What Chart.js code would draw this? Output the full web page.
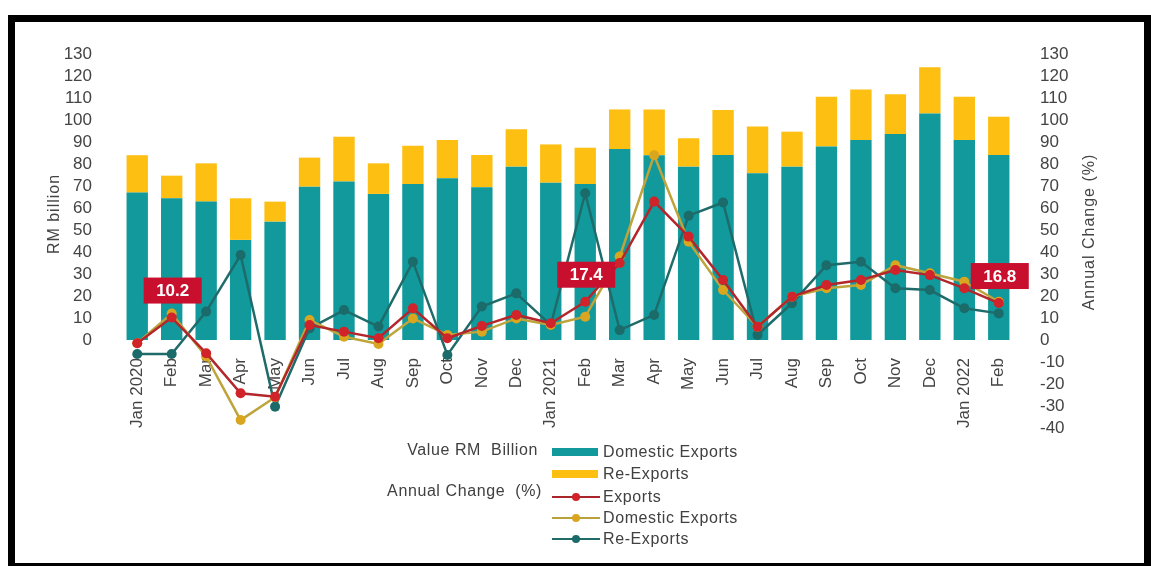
<!DOCTYPE html>
<html>
<head>
<meta charset="utf-8">
<script src="https://cdn.jsdelivr.net/npm/chart.js@4/dist/chart.umd.min.js"></script>
<style>
  html, body { margin: 0; padding: 0; background: #fff; }
  body { width: 1151px; height: 566px; position: relative; overflow: hidden; font-family: "Liberation Sans", Arial, sans-serif; }
  #chart { position: absolute; left: 0; top: 0; }
  .frame { position: absolute; left: 8px; top: 15px; width: 1143px; height: 555px; box-sizing: border-box; border: 7px solid #000; pointer-events: none; }
  .legend { position: absolute; left: 0; top: 0; width: 1151px; height: 566px; color: #404040; font-size: 16px; letter-spacing: 0.6px; pointer-events: none; }
  .legend .grp { position: absolute; text-align: right; white-space: nowrap; line-height: 20px; }
  .legend .row { position: absolute; left: 552px; height: 20px; line-height: 20px; white-space: nowrap; }
  .legend .sw { position: absolute; left: 0; top: 6px; width: 46px; height: 8px; }
  .legend .ln { position: absolute; left: 0; top: 9px; width: 48px; height: 2px; }
  .legend .mk { position: absolute; left: 20px; top: 6px; width: 8px; height: 8px; border-radius: 50%; }
  .legend .tx { position: absolute; left: 51px; top: 0; }
</style>
</head>
<body>
<canvas id="chart" width="1151" height="566"></canvas>

<div class="legend">
  <div class="grp" style="left:380px; width:158px; top:440px;">Value RM&nbsp; Billion</div>
  <div class="grp" style="left:350px; width:192px; top:481px;">Annual Change&nbsp; (%)</div>
  <div class="row" style="top:442px;"><div class="sw" style="background:#11999c"></div><div class="tx">Domestic Exports</div></div>
  <div class="row" style="top:464px;"><div class="sw" style="background:#fcbf12"></div><div class="tx">Re-Exports</div></div>
  <div class="row" style="top:487px;"><div class="ln" style="background:#a8262b"></div><div class="mk" style="background:#d0232a"></div><div class="tx">Exports</div></div>
  <div class="row" style="top:508px;"><div class="ln" style="background:#b9a23a"></div><div class="mk" style="background:#d9a520"></div><div class="tx">Domestic Exports</div></div>
  <div class="row" style="top:529px;"><div class="ln" style="background:#1f6b6a"></div><div class="mk" style="background:#1a6b6a"></div><div class="tx">Re-Exports</div></div>
</div>

<div class="frame"></div>

<script>
// Months, January 2020 to February 2022
const months = ['Jan 2020', 'Feb', 'Mar', 'Apr', 'May', 'Jun', 'Jul', 'Aug', 'Sep', 'Oct', 'Nov', 'Dec',
                'Jan 2021', 'Feb', 'Mar', 'Apr', 'May', 'Jun', 'Jul', 'Aug', 'Sep', 'Oct', 'Nov', 'Dec',
                'Jan 2022', 'Feb'];

// Value, RM billion
const domesticExportsValue = [67.0, 64.4, 62.9, 45.5, 53.8, 69.7, 72.0, 66.4, 70.9, 73.5, 69.4, 78.8,
                              71.5, 70.9, 86.8, 84.0, 78.8, 84.1, 75.8, 78.8, 87.9, 90.9, 93.6, 103.0,
                              90.9, 84.1];
const reExportsValue = [17.0, 10.3, 17.4, 18.9, 9.1, 13.2, 20.4, 13.9, 17.4, 17.4, 14.7, 17.0,
                        17.4, 16.5, 18.0, 20.8, 12.9, 20.4, 21.2, 15.9, 22.7, 23.0, 18.1, 21.0,
                        19.7, 17.4];

// Annual change, %
const exportsChange = [-1.5, 10.2, -6.0, -24.2, -25.8, 6.8, 3.8, 0.8, 14.4, 0.8, 6.4, 11.4,
                       7.6, 17.4, 35.0, 62.9, 47.0, 27.3, 6.0, 19.7, 25.0, 27.3, 31.8, 29.5,
                       23.5, 16.8];
const domesticExportsChange = [-1.5, 12.0, -7.5, -36.4, -26.0, 9.1, 1.5, -1.8, 9.8, 2.3, 3.8, 9.8,
                               6.8, 10.6, 37.9, 84.0, 44.7, 22.7, 6.0, 19.7, 23.5, 25.0, 34.0, 30.3,
                               26.5, 17.4];
const reExportsChange = [-6.4, -6.4, 12.9, 38.6, -30.3, 5.3, 13.6, 6.1, 35.6, -6.8, 15.2, 21.2,
                         6.8, 66.7, 4.5, 11.4, 56.5, 62.5, 2.3, 16.7, 34.0, 35.6, 23.5, 22.7,
                         14.4, 12.1];

// Months whose export growth is called out in a red box
const calloutMonths = [1, 13, 25];

// Axis ranges
const axisMin = -40;
const axisMax = 130;
const axisStep = 10;

const FONT = '"Liberation Sans", Arial, sans-serif';
const TICK_COLOR = '#444';

// Red value boxes above the export growth points
const calloutPlugin = {
  id: 'callouts',
  afterDatasetsDraw(chart) {
    const meta = chart.getDatasetMeta(2);
    const ctx = chart.ctx;
    ctx.save();
    ctx.font = 'bold 17px ' + FONT;
    ctx.textAlign = 'center';
    ctx.textBaseline = 'middle';
    calloutMonths.forEach(i => {
      const pt = meta.data[i];
      const w = 58, h = 26;
      const x = pt.x + 1, bottom = pt.y - 14;
      ctx.fillStyle = '#c8102e';
      ctx.fillRect(x - w / 2, bottom - h, w, h);
      ctx.fillStyle = '#fff';
      ctx.fillText(exportsChange[i].toFixed(1), x, bottom - h / 2 + 1);
    });
    ctx.restore();
  }
};

// Axis titles, both reading bottom to top
const axisTitlePlugin = {
  id: 'axisTitles',
  afterDraw(chart) {
    const ctx = chart.ctx;
    const drawTitle = (text, x, y) => {
      ctx.save();
      ctx.fillStyle = TICK_COLOR;
      ctx.font = '16px ' + FONT;
      ctx.textAlign = 'center';
      ctx.textBaseline = 'middle';
      if ('letterSpacing' in ctx) ctx.letterSpacing = '1px';
      ctx.translate(x, y);
      ctx.rotate(-Math.PI / 2);
      ctx.fillText(text, 0, 0);
      ctx.restore();
    };
    drawTitle('RM billion', 55, 214);
    drawTitle('Annual Change (%)', 1090, 232);
  }
};

const lineStyle = (label, data, line, marker, order) => ({
  type: 'line',
  label,
  data,
  yAxisID: 'yR',
  order,
  borderColor: line,
  borderWidth: 2.5,
  pointRadius: 5,
  pointBorderWidth: 0,
  pointBackgroundColor: marker,
  tension: 0,
  fill: false
});

const yTicks = {
  stepSize: axisStep,
  autoSkip: false,
  color: TICK_COLOR,
  font: { family: FONT, size: 17 }
};

new Chart(document.getElementById('chart'), {
  type: 'bar',
  data: {
    labels: months,
    datasets: [
      {
        label: 'Domestic Exports',
        data: domesticExportsValue,
        yAxisID: 'yL',
        backgroundColor: '#11999c',
        order: 3,
        categoryPercentage: 0.62,
        barPercentage: 1
      },
      {
        label: 'Re-Exports',
        data: reExportsValue,
        yAxisID: 'yL',
        backgroundColor: '#fcbf12',
        order: 4,
        categoryPercentage: 0.62,
        barPercentage: 1
      },
      lineStyle('Exports', exportsChange, '#b3262b', '#d0232a', 0),
      lineStyle('Domestic Exports', domesticExportsChange, '#bda43c', '#dba61f', 1),
      lineStyle('Re-Exports', reExportsChange, '#1f6b6a', '#1a6b6a', 2)
    ]
  },
  options: {
    responsive: false,
    animation: false,
    layout: { padding: { top: 54, bottom: 138, left: 0, right: 0 } },
    plugins: {
      legend: { display: false },
      tooltip: { enabled: false }
    },
    scales: {
      x: {
        position: { yL: 0 },
        stacked: true,
        offset: true,
        grid: { display: false },
        border: { display: false },
        ticks: {
          autoSkip: false,
          minRotation: 90,
          maxRotation: 90,
          padding: 10,
          color: TICK_COLOR,
          font: { family: FONT, size: 17 }
        }
      },
      yL: {
        position: 'left',
        stacked: true,
        min: axisMin,
        max: axisMax,
        grid: { display: false },
        border: { display: false },
        ticks: Object.assign({}, yTicks, {
          padding: 20,
          callback: v => (v < 0 ? '' : v)
        }),
        afterFit: s => { s.width = 120; }
      },
      yR: {
        position: 'right',
        stacked: false,
        min: axisMin,
        max: axisMax,
        grid: { display: false },
        border: { display: false },
        ticks: Object.assign({}, yTicks, { padding: 16 }),
        afterFit: s => { s.width = 135; }
      }
    }
  },
  plugins: [calloutPlugin, axisTitlePlugin]
});
</script>
</body>
</html>
